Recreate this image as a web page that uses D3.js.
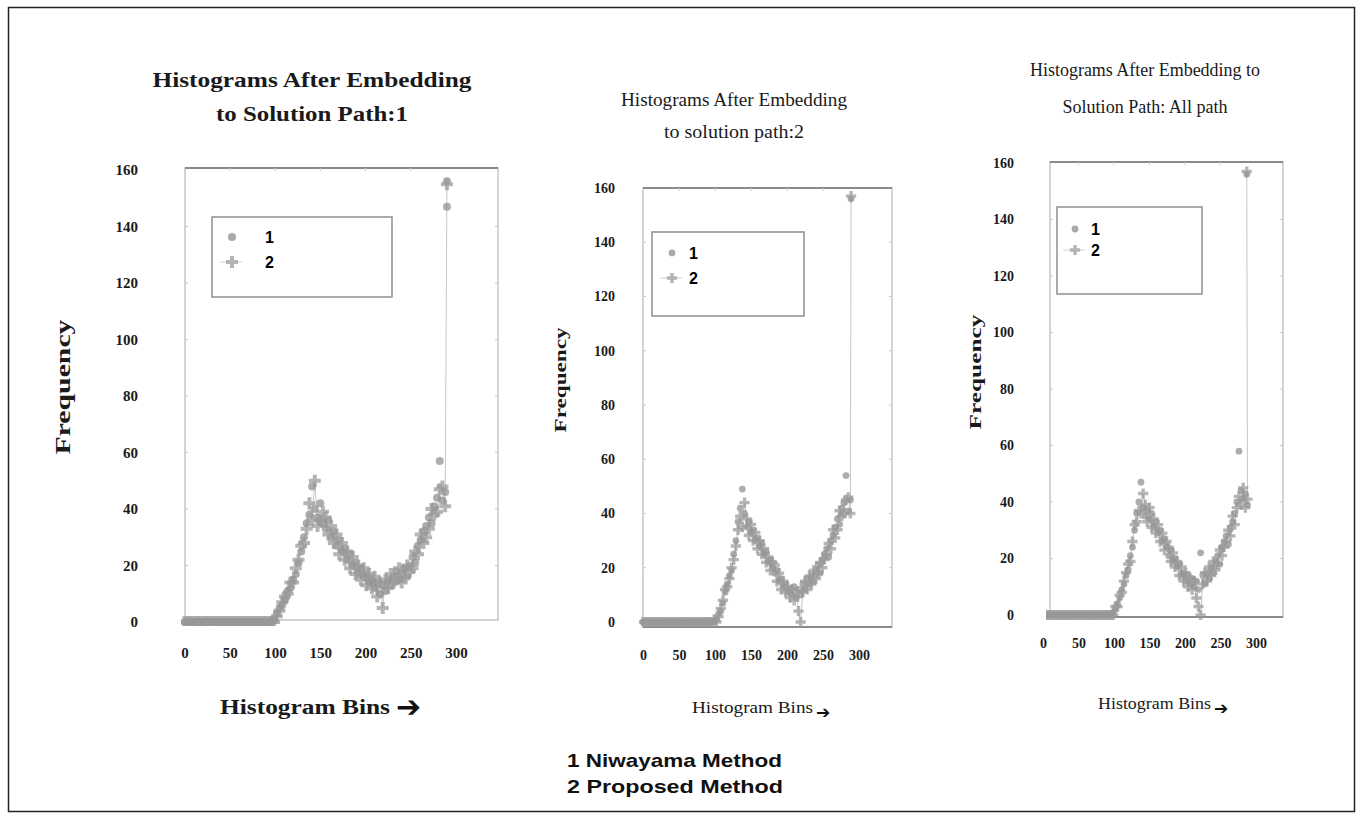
<!DOCTYPE html>
<html>
<head>
<meta charset="utf-8">
<title>Histograms After Embedding</title>
<script src="https://d3js.org/d3.v7.min.js"></script>
<style>
  body { margin: 0; background: #fff; }
  svg { display: block; }
  .serif { font-family: "Liberation Serif", "Times New Roman", serif; }
  .sans { font-family: "Liberation Sans", Arial, sans-serif; font-weight: bold; }
  .axis path, .axis line { display: none; }
</style>
</head>
<body>
<script>
// histogram bins, sampled every 3rd bin
const flatBins = d3.range(0, 97, 3);     // 0 .. 96
const activeBins = d3.range(99, 289, 3); // 99 .. 288
const flatValues = [0,0,0,0,0,0,0,0,0,0,0,0,0,0,0,0,0,0,0,0,0,0,0,0,0,0,0,0,0,0,0,0,0];

// panel 1 : solution path 1
const p1Niwayama = [1,3,5,6,8,11,12,15,17,21,25,30,35,38,48,40,37,42,35,33,36,30,32,27,29,25,26,22,24,20,21,17,
  19,16,17,14,15,12,14,10,13,11,15,13,16,18,15,17,19,16,20,23,21,27,29,32,34,37,35,41,44,57,43,46];
const p1Proposed = [0,2,4,7,9,10,14,14,19,22,27,28,33,42,36,50,34,36,39,37,31,34,28,31,24,28,22,25,19,23,17,20,
  15,19,13,17,12,16,9,14,5,15,12,17,14,15,19,14,16,20,18,19,25,24,31,28,30,33,40,38,39,47,48,41];

// panel 2 : solution path 2
const p2Niwayama = [0,1,3,4,7,11,14,17,19,25,30,37,42,49,40,35,37,33,34,30,31,28,29,25,26,22,23,20,18,19,15,16,
  13,14,11,12,10,13,9,12,10,14,12,16,14,17,15,19,21,18,23,25,27,24,30,32,35,38,36,42,44,54,41,45];
const p2Proposed = [1,0,2,5,8,12,13,16,20,23,28,34,39,35,44,38,32,36,30,33,27,30,25,27,22,24,19,22,21,15,18,12,
  15,11,13,9,12,8,11,4,0,11,15,12,17,14,19,16,18,22,20,23,25,29,27,34,31,34,41,39,40,45,46,40];

// panel 3 : all paths
const p3Niwayama = [1,2,4,6,9,11,14,16,21,24,30,36,40,47,38,35,37,34,36,31,33,29,30,26,27,24,21,23,19,20,17,18,
  14,15,12,14,11,13,10,12,9,22,14,11,15,13,17,15,19,21,18,24,26,28,25,31,33,36,40,58,44,41,43,39];
const p3Proposed = [0,3,3,7,8,12,15,18,19,26,32,33,37,36,43,39,33,38,31,34,29,32,26,29,23,26,24,19,22,17,19,14,
  17,12,15,10,13,9,12,6,3,0,11,15,12,17,14,19,16,18,23,21,24,26,30,28,35,32,38,42,39,45,38,41];

// the tall last-bin spike of each panel
const spikeBins = [290, 289, 287];
const spikeNiwayama = [[156, 147], [156], [156]];
const spikeProposed = [155, 157, 157];

const xTicks = [0, 50, 100, 150, 200, 250, 300];
const yTicks = [0, 20, 40, 60, 80, 100, 120, 140, 160];
const legendLabels = ["1", "2"];
const noteLines = ["1 Niwayama Method", "2 Proposed Method"];

const titles = [
  ["Histograms After Embedding", "to Solution Path:1"],
  ["Histograms After Embedding", "to solution  path:2"],
  ["Histograms After Embedding to", "Solution Path: All path"]
];

const width = 1363, height = 818;
const svg = d3.select("body").append("svg")
    .attr("width", width)
    .attr("height", height);

// outer frame
svg.append("rect")
    .attr("x", 8.5).attr("y", 7.5)
    .attr("width", 1346).attr("height", 804)
    .attr("fill", "none")
    .attr("stroke", "#222")
    .attr("stroke-width", 1.5);

// layout of each panel
const panels = [
  { box: [185, 498, 168, 620], xr: [184.5, 456], yr: [622, 170], yAxisX: 138, xAxisY: 640,
    tickFont: 15, r: 4,
    title: { x: 312, y: [87, 121], size: 21, bold: true, len: [319, 192] },
    ylab: { x: 62, y: 387, size: 22, len: 135 },
    xlab: { x: 220, y: 714, size: 20, len: 170 },
    arrow: { x: 396, y: 717, size: 30 },
    legend: { box: [212, 392, 217, 297], mx: 232, tx: 265, ty: [237, 262] },
    niw: p1Niwayama, pro: p1Proposed, darkBottom: false },
  { box: [643, 892, 188, 627], xr: [643, 859], yr: [622, 188], yAxisX: 615, xAxisY: 643,
    tickFont: 14, r: 3.4,
    title: { x: 734, y: [106, 138], size: 18, bold: false, len: [226, 140] },
    ylab: { x: 560, y: 380, size: 16, len: 105 },
    xlab: { x: 692, y: 713, size: 16, len: 121 },
    arrow: { x: 816, y: 718, size: 17 },
    legend: { box: [652, 804, 232, 316], mx: 672, tx: 689, ty: [253, 278] },
    niw: p2Niwayama, pro: p2Proposed, darkBottom: true },
  { box: [1050, 1283, 162, 617], xr: [1043, 1256], yr: [615, 163], yAxisX: 1014, xAxisY: 631,
    tickFont: 14, r: 3.4,
    title: { x: 1145, y: [76, 113], size: 18, bold: false, len: [230, 165] },
    ylab: { x: 975, y: 372, size: 16, len: 115 },
    xlab: { x: 1098, y: 709, size: 16, len: 113 },
    arrow: { x: 1214, y: 714, size: 17 },
    legend: { box: [1057, 1202, 207, 294], mx: 1075, tx: 1091, ty: [229, 250] },
    niw: p3Niwayama, pro: p3Proposed, darkBottom: true }
];

panels.forEach((p, i) => {
  const g = svg.append("g");
  const [bx0, bx1, by0, by1] = p.box;

  const x = d3.scaleLinear().domain([0, 300]).range(p.xr);
  const y = d3.scaleLinear().domain([0, 160]).range(p.yr);

  // plot frame
  g.append("rect")
      .attr("x", bx0).attr("y", by0)
      .attr("width", bx1 - bx0).attr("height", by1 - by0)
      .attr("fill", "none")
      .attr("stroke", "#b8b8b8")
      .attr("stroke-width", 1.2);
  g.append("line")
      .attr("x1", bx0).attr("x2", bx1).attr("y1", by0).attr("y2", by0)
      .attr("stroke", "#8a8a8a").attr("stroke-width", 2.2);
  if (p.darkBottom) {
    g.append("line")
        .attr("x1", bx0).attr("x2", bx1).attr("y1", by1).attr("y2", by1)
        .attr("stroke", "#8a8a8a").attr("stroke-width", 2);
  }

  // faint ticks on the frame
  g.append("g").selectAll("line").data(yTicks.slice(1, -1)).join("line")
      .attr("x1", bx0).attr("x2", bx0 + 3)
      .attr("y1", d => y(d)).attr("y2", d => y(d))
      .attr("stroke", "#c8c8c8");
  g.append("g").selectAll("line").data(yTicks.slice(1, -1)).join("line")
      .attr("x1", bx1 - 3).attr("x2", bx1)
      .attr("y1", d => y(d)).attr("y2", d => y(d))
      .attr("stroke", "#c8c8c8");
  g.append("g").selectAll("line").data(xTicks.slice(1, -1)).join("line")
      .attr("x1", d => x(d)).attr("x2", d => x(d))
      .attr("y1", by0).attr("y2", by0 + 3)
      .attr("stroke", "#c8c8c8");

  // axes: labels only
  const tickStyle = sel => sel.selectAll("text")
      .attr("class", "serif")
      .attr("font-size", p.tickFont)
      .attr("font-weight", "bold")
      .attr("fill", "#1a1a1a");

  g.append("g")
      .attr("class", "axis")
      .attr("transform", `translate(0,${p.xAxisY})`)
      .call(d3.axisBottom(x).tickValues(xTicks).tickSize(0).tickPadding(7))
      .call(tickStyle)
      .call(a => a.select(".domain").remove());

  g.append("g")
      .attr("class", "axis")
      .attr("transform", `translate(${p.yAxisX},0)`)
      .call(d3.axisLeft(y).tickValues(yTicks).tickSize(0).tickPadding(0))
      .call(tickStyle)
      .call(a => a.select(".domain").remove());

  // data
  const clipId = "clip" + i;
  svg.append("clipPath").attr("id", clipId)
    .append("rect")
      .attr("x", bx0 - 4).attr("y", by0 - 2)
      .attr("width", bx1 - bx0 + 8).attr("height", by1 - by0 + 8);
  const plot = g.append("g").attr("clip-path", `url(#${clipId})`);

  const bins = flatBins.concat(activeBins);
  const niw = bins.map((b, k) => ({ bin: b, v: flatValues.concat(p.niw)[k] }));
  spikeNiwayama[i].forEach(v => niw.push({ bin: spikeBins[i], v: v }));
  const pro = bins.map((b, k) => ({ bin: b, v: flatValues.concat(p.pro)[k] }));
  pro.push({ bin: spikeBins[i], v: spikeProposed[i] });

  plot.append("path")
      .datum(pro)
      .attr("fill", "none")
      .attr("stroke", "#c6c6c6")
      .attr("stroke-width", 1)
      .attr("d", d3.line().x(d => x(d.bin)).y(d => y(d.v)));

  plot.append("g").selectAll("circle").data(niw).join("circle")
      .attr("cx", d => x(d.bin))
      .attr("cy", d => y(d.v))
      .attr("r", p.r)
      .attr("fill", "#8e8e8e")
      .attr("fill-opacity", 0.72);

  const cross = d3.symbol().type(d3.symbolCross).size(p.r * p.r * 5);
  plot.append("g").selectAll("path").data(pro).join("path")
      .attr("transform", d => `translate(${x(d.bin)},${y(d.v)})`)
      .attr("d", cross)
      .attr("fill", "#999")
      .attr("fill-opacity", 0.72);

  // legend
  const L = p.legend;
  g.append("rect")
      .attr("x", L.box[0]).attr("y", L.box[2])
      .attr("width", L.box[1] - L.box[0]).attr("height", L.box[3] - L.box[2])
      .attr("fill", "#fff")
      .attr("stroke", "#8f8f8f")
      .attr("stroke-width", 1.5);
  g.append("line")
      .attr("x1", L.mx - 12).attr("x2", L.mx + 10)
      .attr("y1", L.ty[1]).attr("y2", L.ty[1])
      .attr("stroke", "#d0d0d0");
  g.append("circle")
      .attr("cx", L.mx).attr("cy", L.ty[0]).attr("r", p.r)
      .attr("fill", "#aaa");
  g.append("path")
      .attr("transform", `translate(${L.mx},${L.ty[1]})`)
      .attr("d", cross)
      .attr("fill", "#b4b4b4");
  g.append("g").selectAll("text").data(legendLabels).join("text")
      .attr("class", "sans")
      .attr("x", L.tx)
      .attr("y", (d, k) => L.ty[k] + 6)
      .attr("font-size", 16)
      .attr("fill", "#000")
      .text(d => d);

  // titles
  g.append("g").selectAll("text").data(titles[i]).join("text")
      .attr("class", "serif")
      .attr("x", p.title.x)
      .attr("y", (d, k) => p.title.y[k])
      .attr("text-anchor", "middle")
      .attr("font-size", p.title.size)
      .attr("font-weight", p.title.bold ? "bold" : "normal")
      .attr("fill", "#1a1a1a")
      .attr("textLength", (d, k) => p.title.len[k])
      .attr("lengthAdjust", "spacingAndGlyphs")
      .text(d => d);

  // axis titles
  g.append("text")
      .attr("class", "serif")
      .attr("transform", `translate(${p.ylab.x},${p.ylab.y}) rotate(-90)`)
      .attr("text-anchor", "middle")
      .attr("dy", "0.35em")
      .attr("font-size", p.ylab.size)
      .attr("font-weight", "bold")
      .attr("fill", "#1a1a1a")
      .attr("textLength", p.ylab.len)
      .attr("lengthAdjust", "spacingAndGlyphs")
      .text("Frequency");

  g.append("text")
      .attr("class", "serif")
      .attr("x", p.xlab.x)
      .attr("y", p.xlab.y)
      .attr("font-size", p.xlab.size)
      .attr("font-weight", i === 0 ? "bold" : "normal")
      .attr("fill", "#1a1a1a")
      .attr("textLength", p.xlab.len)
      .attr("lengthAdjust", "spacingAndGlyphs")
      .text("Histogram Bins");

  g.append("text")
      .attr("x", p.arrow.x)
      .attr("y", p.arrow.y)
      .attr("font-family", "DejaVu Sans")
      .attr("font-weight", "bold")
      .attr("font-size", p.arrow.size)
      .attr("fill", "#111")
      .text("\u2794");
});

// method key under the panels
svg.append("g").selectAll("text").data(noteLines).join("text")
    .attr("class", "sans")
    .attr("x", 567)
    .attr("y", (d, k) => 767 + k * 26)
    .attr("font-size", 19)
    .attr("fill", "#111")
    .attr("textLength", (d, k) => k === 0 ? 215 : 216)
    .attr("lengthAdjust", "spacingAndGlyphs")
    .text(d => d);
</script>
</body>
</html>
